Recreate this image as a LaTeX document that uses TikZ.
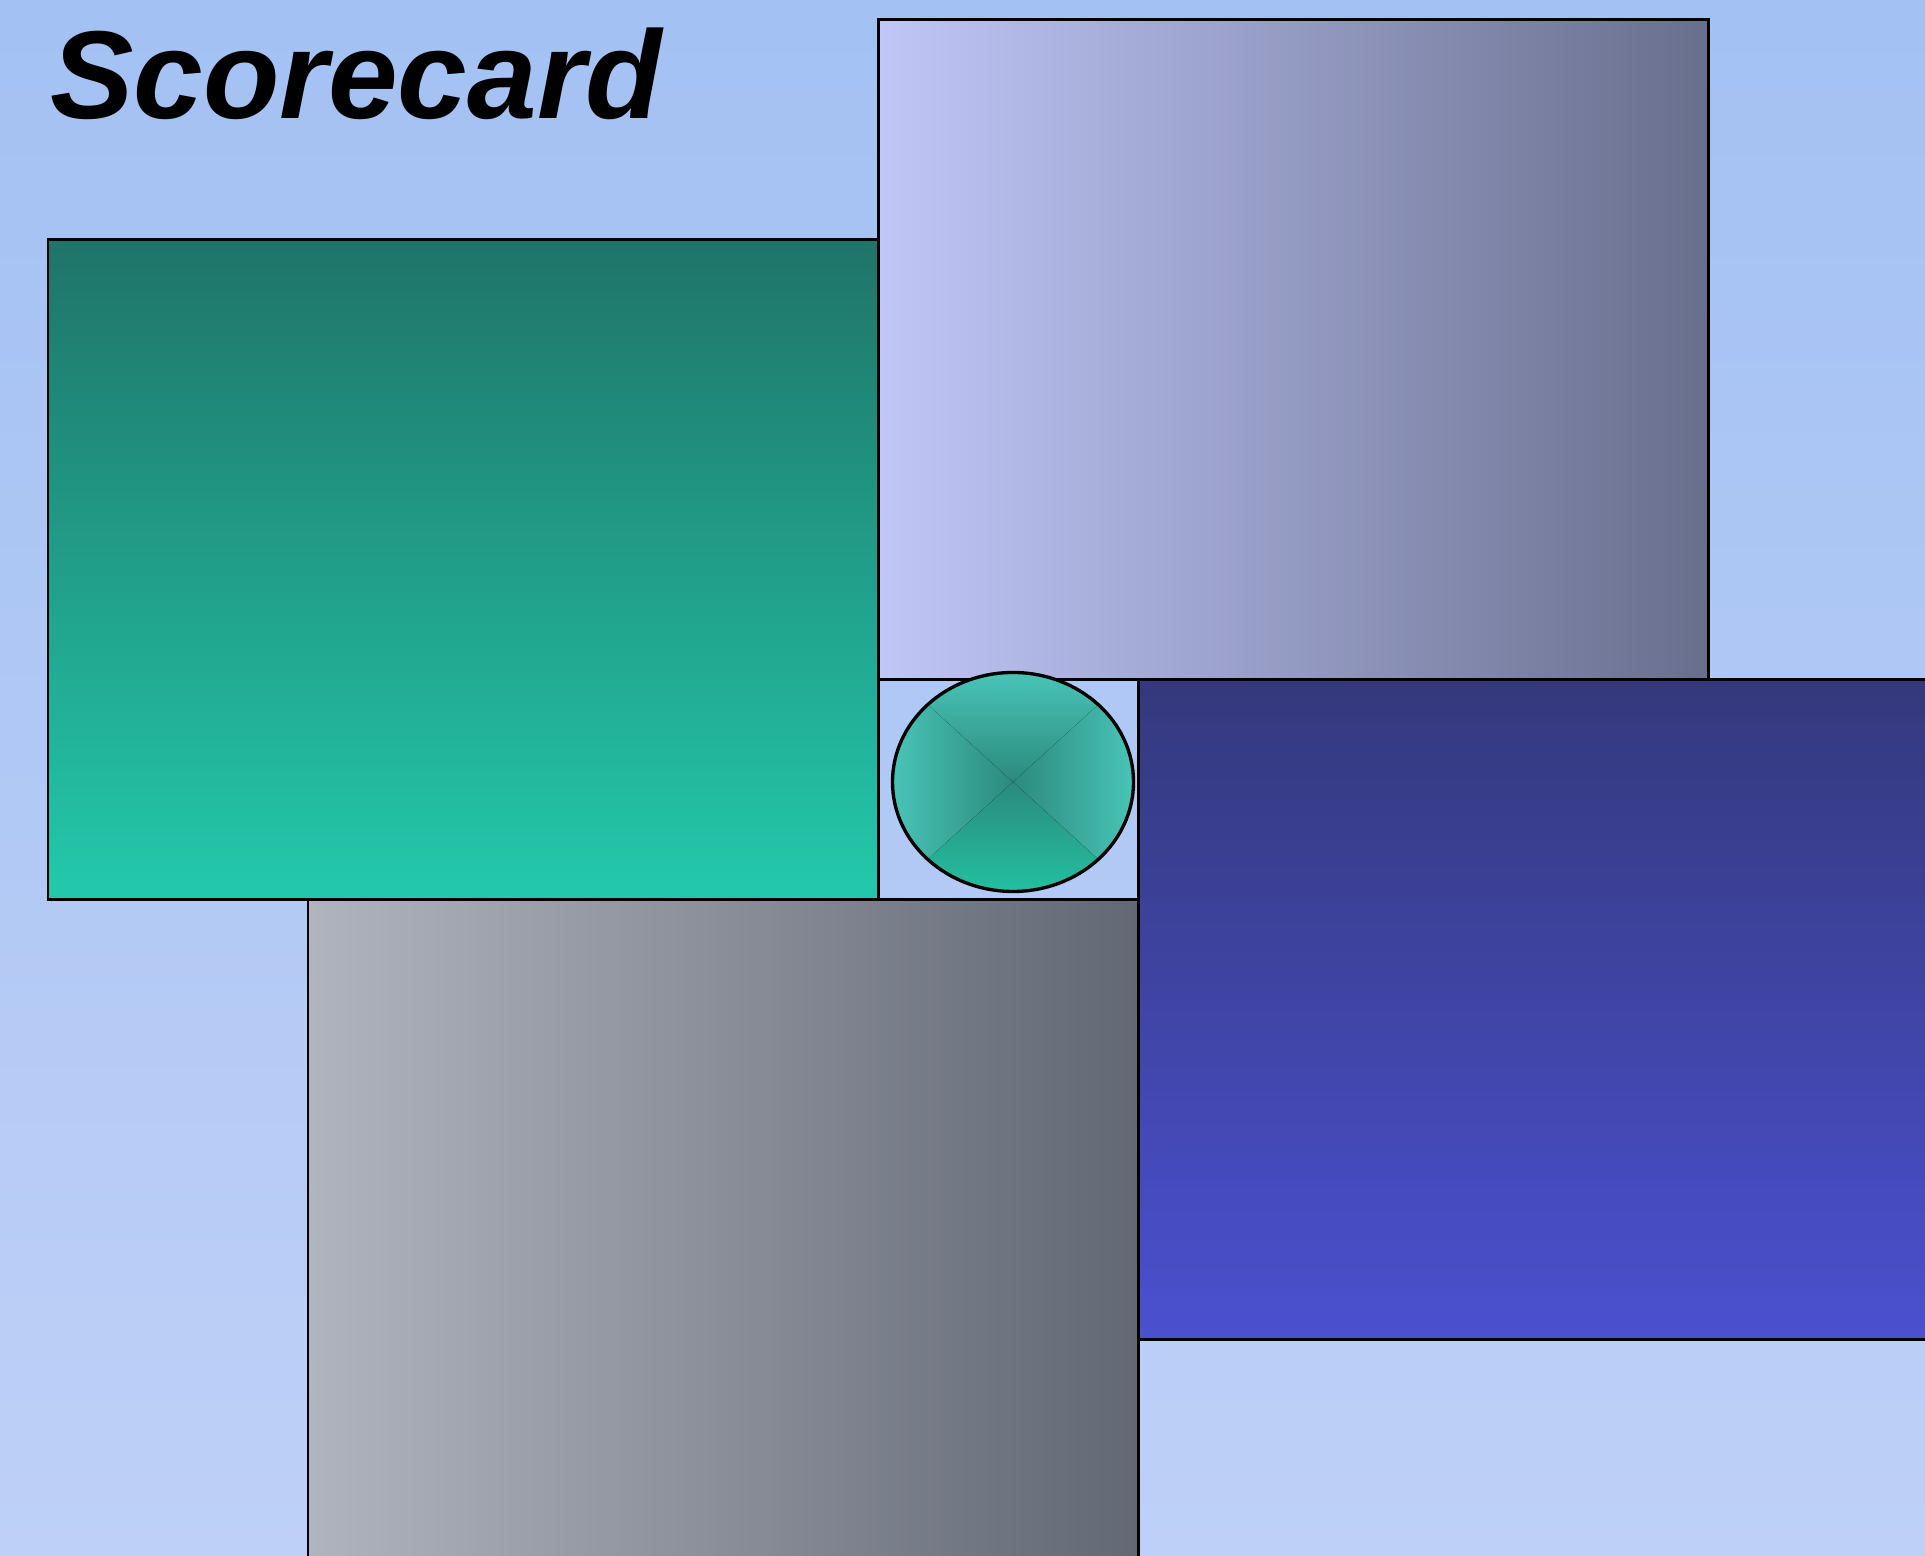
\documentclass[tikz,border=0pt]{standalone}
\usepackage{fontspec}
\newfontfamily\headfont{Liberation Sans}
\usetikzlibrary{positioning,shapes.geometric}
\definecolor{bgtop}{RGB}{163,193,243}
\definecolor{bgbot}{RGB}{190,208,247}
\definecolor{tealtop}{RGB}{31,116,104}
\definecolor{tealbot}{RGB}{35,201,171}
\definecolor{lilacl}{RGB}{192,199,248}
\definecolor{lilacr}{RGB}{104,110,140}
\definecolor{navytop}{RGB}{52,57,124}
\definecolor{navybot}{RGB}{75,80,208}
\definecolor{grayl}{RGB}{176,180,190}
\definecolor{grayr}{RGB}{98,104,116}
\definecolor{hubedge}{RGB}{72,196,182}
\definecolor{hubmid}{RGB}{44,138,126}
\definecolor{hubbot}{RGB}{34,192,160}
\tikzset{
  panel/.style   = {draw, line width=0.85pt, rectangle, inner sep=0pt, outer sep=0pt,
                    minimum width=8.30cm, minimum height=6.60cm},
  tealpanel/.style  = {panel, top color=tealtop, bottom color=tealbot},
  lilacpanel/.style = {panel, left color=lilacl, right color=lilacr},
  navypanel/.style  = {panel, top color=navytop, bottom color=navybot},
  graypanel/.style  = {panel, left color=grayl, right color=grayr},
  hub/.style     = {draw, line width=0.95pt, ellipse, inner sep=0pt,
                    minimum width=2.41cm, minimum height=2.19cm,
                    path picture={
                      \coordinate (pc) at (path picture bounding box.center);
                      \coordinate (pnw) at (path picture bounding box.north west);
                      \coordinate (pne) at (path picture bounding box.north east);
                      \coordinate (psw) at (path picture bounding box.south west);
                      \coordinate (pse) at (path picture bounding box.south east);
                      \shade[left color=hubedge, right color=hubedge, middle color=hubmid]
                        (pnw) rectangle (pse);
                      \fill[top color=hubedge, bottom color=hubmid] (pnw) -- (pne) -- (pc) -- cycle;
                      \fill[top color=hubmid, bottom color=hubbot] (psw) -- (pc) -- (pse) -- cycle;
                    }},
  heading/.style = {font=\headfont\bfseries\itshape\fontsize{35.6}{40}\selectfont,
                    inner sep=0pt, anchor=base west},
}

\begin{document}
\begin{tikzpicture}[x=1cm,y=1cm]
\useasboundingbox (0,0) rectangle (19.25,15.56);
\shade[top color=bgtop, bottom color=bgbot] (0,0) rectangle (19.25,15.56);
\clip (0,0) rectangle (19.25,15.56);
\node[heading] (title) at (0.495,14.37) {Scorecard};
\node[lilacpanel] (lilac) at (12.93,12.06) {};
\node[tealpanel] (teal) at (4.63,9.86) {};
\node[navypanel] (navy) at (15.53,5.46) {};
\node[graypanel] (gray) at (7.23,3.26) {};
\node[hub] (hubnode) at (10.13,7.74) {};
\end{tikzpicture}
\end{document}
